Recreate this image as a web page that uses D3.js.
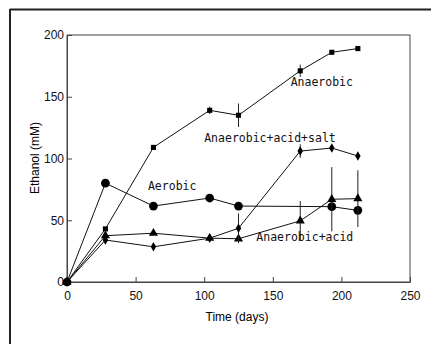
<!DOCTYPE html>
<html><head><meta charset="utf-8">
<script src="https://cdn.jsdelivr.net/npm/d3@7"></script>
<style>body{margin:0;background:#fff}svg{display:block}</style>
</head><body><svg id="c" width="431" height="344"></svg>
<script>
const days = [0, 28, 63, 104, 125, 170, 193, 212];
const anaerobic = [0, 43, 109, 139, 135, 171, 186, 189];
const anaerobicErr = [0, 0, 0, 3, 9.5, 5, 0, 0];
const aerobicDays = [0, 28, 63, 104, 125, 193, 212];
const aerobic = [0, 80, 61.5, 68, 61.5, 61, 58];
const acid = [0, 37.5, 39.5, 35.5, 35, 49.5, 67, 67.5];
const acidErr = [0, 0, 0, 0, 0, 16, 26, 23];
const salt = [0, 34, 28.5, 35.5, 43.5, 106, 108.5, 102];
const saltErr = [0, 3, 0, 0, 12, 5.5, 0, 0];
const xTicks = [0, 50, 100, 150, 200, 250];
const yTicks = [0, 50, 100, 150, 200];
const labels = [
  {text: "Anaerobic", x: 163, y: 159},
  {text: "Anaerobic+acid+salt", x: 100, y: 113.5},
  {text: "Aerobic", x: 59, y: 74.5},
  {text: "Anaerobic+acid", x: 138, y: 33.5}
];

const svg = d3.select("#c");
const L = 67, R = 410, T = 35, B = 282;
const x = d3.scaleLinear().domain([0, 250]).range([L, R]);
const y = d3.scaleLinear().domain([0, 200]).range([B, T]);

// outer frame
svg.append("line").attr("x1", 10).attr("x2", 431).attr("y1", 9.5).attr("y2", 9.5).attr("stroke", "#222").attr("stroke-width", 2);
svg.append("line").attr("x1", 10).attr("x2", 10).attr("y1", 9).attr("y2", 344).attr("stroke", "#222").attr("stroke-width", 2);

// plot box
svg.append("rect").attr("x", L).attr("y", T).attr("width", R - L).attr("height", B - T)
  .attr("fill", "none").attr("stroke", "#444").attr("stroke-width", 1);

const xAxis = svg.append("g").attr("transform", `translate(0,${B})`)
  .call(d3.axisBottom(x).tickValues(xTicks).tickSizeInner(-5).tickSizeOuter(0).tickPadding(9));
const yAxis = svg.append("g").attr("transform", `translate(${L},0)`)
  .call(d3.axisLeft(y).tickValues(yTicks).tickSizeInner(-5).tickSizeOuter(0).tickPadding(3));
[xAxis, yAxis].forEach(g => {
  g.select(".domain").attr("stroke", "#444");
  g.selectAll(".tick line").attr("stroke", "#444");
  g.selectAll("text").attr("font-family", "Liberation Sans, Arial, sans-serif").attr("font-size", 12).attr("fill", "#111");
});

svg.append("text").attr("x", 237).attr("y", 321).attr("text-anchor", "middle")
  .attr("font-family", "Liberation Sans, Arial, sans-serif").attr("font-size", 12).text("Time (days)");
svg.append("text").attr("transform", "translate(39,158) rotate(-90)").attr("text-anchor", "middle")
  .attr("font-family", "Liberation Sans, Arial, sans-serif").attr("font-size", 12).text("Ethanol (mM)");

function series(xs, ys, errs, symbolType, size) {
  const pts = xs.map((d, i) => ({d, v: ys[i], e: errs ? errs[i] : 0}));
  svg.append("path").datum(pts)
    .attr("d", d3.line().x(p => x(p.d)).y(p => y(p.v)))
    .attr("fill", "none").attr("stroke", "#111").attr("stroke-width", 1);
  svg.append("g").selectAll("line").data(pts.filter(p => p.e > 0)).join("line")
    .attr("x1", p => x(p.d)).attr("x2", p => x(p.d))
    .attr("y1", p => y(p.v + p.e)).attr("y2", p => y(p.v - p.e))
    .attr("stroke", "#222").attr("stroke-width", 1);
  svg.append("g").selectAll("path").data(pts).join("path")
    .attr("transform", p => `translate(${x(p.d)},${y(p.v)})`)
    .attr("d", d3.symbol().type(symbolType).size(size))
    .attr("fill", "#000");
}

series(days, anaerobic, anaerobicErr, d3.symbolSquare, 26);
series(aerobicDays, aerobic, null, d3.symbolCircle, 60);
series(days, acid, acidErr, d3.symbolTriangle, 36);
series(days, salt, saltErr, d3.symbolDiamond, 26);

svg.append("g").selectAll("text").data(labels).join("text")
  .attr("x", d => x(d.x)).attr("y", d => y(d.y))
  .attr("font-family", "DejaVu Sans Mono, monospace").attr("font-size", 11.5).attr("fill", "#111")
  .text(d => d.text);
</script></body></html>
